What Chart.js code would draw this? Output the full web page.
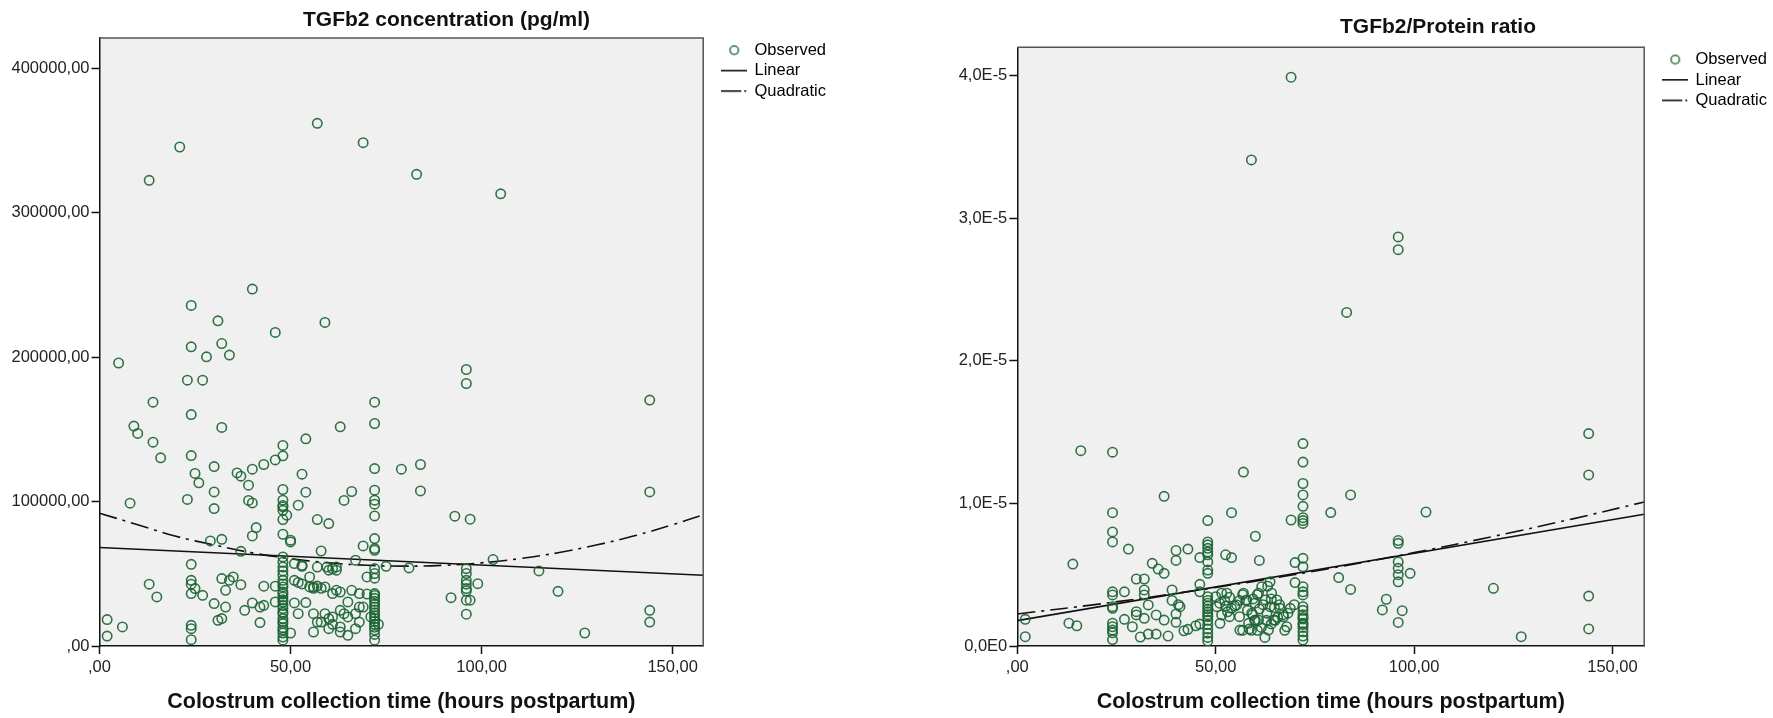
<!DOCTYPE html>
<html>
<head>
<meta charset="utf-8">
<script src="https://cdn.jsdelivr.net/npm/chart.js@4.4.1/dist/chart.umd.min.js"></script>
<style>
  body { margin: 0; background: #fff; }
  #wrap { position: relative; width: 1773px; height: 718px; }
  canvas { position: absolute; top: 0; }
  #c1 { left: 0; }
  #c2 { left: 886px; }
</style>
</head>
<body>
<div id="wrap">
  <canvas id="c1" width="886" height="718"></canvas>
  <canvas id="c2" width="887" height="718"></canvas>
</div>
<script>
// tick positions and labels (SPSS style, comma decimals)
const timeTickValues = [0, 50, 100, 150];
const timeTicks = [',00', '50,00', '100,00', '150,00'];
const concTickValues = [0, 100000, 200000, 300000, 400000];
const concTicks = [',00', '100000,00', '200000,00', '300000,00', '400000,00'];
const ratioTickValues = [0, 1e-5, 2e-5, 3e-5, 4e-5];
const ratioTicks = ['0,0E0', '1,0E-5', '2,0E-5', '3,0E-5', '4,0E-5'];
const legendNames = ['Observed', 'Linear', 'Quadratic'];

// TGFb2 concentration: [hours, pg/ml]
const concObserved = [
  [57,362000],[69,348600],[21,345600],[13,322500],[83,326700],[105,313200],
  [40,247200],[24,235900],[31,225200],[59,224100],[46,217200],[24,207200],[32,209500],[28,200300],[34,201500],[5,196000],
  [96,191500],[96,181800],[23,184100],[27,184100],[14,168900],[72,168900],[24,160300],[63,151800],[32,151400],[72,154100],
  [9,152300],[10,147200],[54,143500],[14,141200],[48,138900],[48,131700],[24,131900],[16,130300],[46,128900],[43,125700],
  [40,122500],[30,124300],[72,122900],[79,122500],[84,125700],[36,119900],[37,117600],[53,119000],[25,119500],[26,113000],
  [39,111400],[30,106700],[48,108400],[54,106500],[66,107000],[72,107900],[84,107400],
  [23,101500],[8,98900],[30,95200],[39,100800],[40,99100],[48,101000],[48,97300],[52,97500],[64,100800],[72,101000],
  [72,98200],[72,90100],[48,87600],[49,90600],[57,87600],[60,84800],[93,89900],[97,87800],[41,82000],[40,76200],[48,77400],
  [50,72100],[29,72800],[32,73900],[69,69300],[72,74400],[72,67500],[72,66300],[58,65800],[37,65600],[67,59400],[48,61700],
  [75,55200],[81,54100],[103,59900],[115,52000],[120,37900],[127,9000],
  [96,53600],[96,50200],[96,45500],[96,42800],[96,39800],[96,38100],[96,31700],[96,22000],[99,43200],[92,33500],[97,31700],
  [144,170300],[144,106700],[144,24700],[144,16600],
  [2,18300],[2,6900],[6,13200],[13,42800],[15,34000],[24,56600],[24,45500],[24,42800],[24,36300],[25,39800],[27,35100],
  [24,14300],[24,12000],[24,4400],
  [30,29400],[31,17800],[32,19000],[33,27000],[32,46700],[33,38600],[34,45500],[35,47800],[37,42500],[38,24700],[40,29800],
  [42,27000],[43,28200],[42,16200],[43,41400],[46,41400],[46,30500],
  [48,94000],[48,96300],[48,54700],[48,49000],[48,45500],[48,40900],[48,37400],[48,34000],[48,30500],[48,28000],[48,25900],
  [48,22400],[48,19000],[48,15500],[48,12700],[48,9000],[48,6200],[48,4000],[48,32000],[48,23500],[48,17000],[48,11000],
  [48,43000],[48,36000],[48,52000],[48,58000],
  [50,73300],[51,57100],[51,45500],[52,44000],[53,43000],[51,29800],[52,22400],[50,9000],[53,55900],[53,55200],
  [55,47800],[55,40900],[57,54700],[56,40900],[57,41500],[56,40000],[54,30100],[56,22400],[57,16600],[58,16600],[59.5,54700],
  [60,52500],[61,53500],[58,40000],[59,40900],[59,22400],[60,19000],[61,15000],[61,20100],[60,12000],[56,9700],[61,36300],
  [62,52500],[62,54800],[62,38600],[63,37400],[63,24700],[64,22400],[65,20100],[63,13200],[63,9700],[65,7400],[65,30500],
  [66,38600],[67,12000],[68,36300],[68,27000],[69,27000],[70,36000],[67,22400],[68,16600],[70,47800],[71,20100],[73,15000],
  [72,53600],[72,50200],[72,47000],[72,36300],[72,33000],[72,31000],[72,29000],[72,27000],[72,25000],[72,23000],[72,21000],
  [72,19000],[72,17000],[72,15000],[72,13000],[72,11000],[72,8000],[72,4000],[72,35000]
];

// fitted curves
const concFitX = [0, 10, 20, 30, 40, 50, 60, 70, 80, 90, 100, 110, 120, 130, 140, 150, 158];
const concQuadratic = [92000, 84000, 76000, 70000, 64500, 60500, 57600, 55900, 55300, 55900, 57600, 60500, 64600, 69900, 76300, 84000, 90900];
const concLinearX = [0, 158];
const concLinear = [68200, 49000];

// TGFb2/Protein ratio: [hours, ratio]
const ratioObserved = [
  [69,39.9e-6],[59,34.1e-6],[83,23.4e-6],[96,28.7e-6],[96,27.8e-6],
  [144,14.9e-6],[144,12.0e-6],[144,3.5e-6],[144,1.2e-6],[127,0.65e-6],[120,4.05e-6],[103,9.4e-6],
  [96,7.4e-6],[96,7.2e-6],[96,5.9e-6],[96,5.45e-6],[96,5.0e-6],[96,4.5e-6],[96,1.65e-6],[99,5.1e-6],[93,3.28e-6],[92,2.53e-6],[97,2.48e-6],
  [72,14.2e-6],[72,12.9e-6],[72,11.4e-6],[72,10.6e-6],[72,9.8e-6],[72,9.0e-6],[72,8.8e-6],[72,8.6e-6],[72,6.15e-6],[72,5.56e-6],
  [72,4.16e-6],[72,3.8e-6],[72,3.58e-6],[72,2.76e-6],[72,2.5e-6],[72,2.2e-6],[72,1.9e-6],[72,1.6e-6],[72,1.3e-6],[72,1.0e-6],
  [72,0.7e-6],[72,0.42e-6],[72,2.0e-6],[72,1.5e-6],
  [69,8.84e-6],[79,9.36e-6],[84,10.6e-6],[60,7.7e-6],[61,6.0e-6],[70,5.85e-6],[70,4.45e-6],[81,4.8e-6],[84,3.97e-6],
  [2,1.87e-6],[2,0.65e-6],[13,1.6e-6],[15,1.42e-6],[14,5.75e-6],[16,13.7e-6],[24,13.6e-6],[37,10.5e-6],[57,12.2e-6],[48,8.8e-6],
  [54,9.35e-6],[24,9.35e-6],[24,8.0e-6],[24,7.3e-6],[28,6.8e-6],
  [48,7.3e-6],[48,7.1e-6],[48,6.85e-6],[48,6.6e-6],[48,6.4e-6],[48,5.9e-6],[48,5.33e-6],[48,5.1e-6],[48,3.46e-6],[48,3.2e-6],
  [48,3.0e-6],[48,2.8e-6],[48,2.6e-6],[48,2.4e-6],[48,2.2e-6],[48,2.06e-6],[48,1.8e-6],[48,1.5e-6],[48,1.2e-6],[48,0.9e-6],
  [48,0.6e-6],[48,0.35e-6],
  [40,6.7e-6],[40,6.0e-6],[43,6.8e-6],[46,6.2e-6],[52.5,6.4e-6],[54,6.2e-6],[34,5.8e-6],[35.5,5.4e-6],[37,5.1e-6],[30,4.7e-6],
  [32,4.7e-6],[32,3.93e-6],[32,3.58e-6],[24,3.8e-6],[24,3.58e-6],[27,3.8e-6],[24,2.76e-6],[33,2.88e-6],[30,2.41e-6],[30,2.18e-6],
  [39,3.2e-6],[40.6,2.9e-6],[41,2.76e-6],[32,1.94e-6],[35,2.18e-6],[37,1.82e-6],[40,2.25e-6],[40,1.66e-6],[27,1.87e-6],[29,1.35e-6],
  [24,1.6e-6],[24,1.35e-6],[24,1.12e-6],[24,0.45e-6],[31,0.63e-6],[33,0.84e-6],[35,0.84e-6],[38,0.7e-6],[42,1.07e-6],[43,1.17e-6],
  [46,3.8e-6],[46,4.33e-6],[46,1.54e-6],[45,1.42e-6],[39,3.93e-6],[24,0.93e-6],[24,2.64e-6],
  [50,3.46e-6],[51,3.0e-6],[51.5,3.7e-6],[52.3,3.2e-6],[52.6,2.8e-6],[53,2.4e-6],[53.5,2.06e-6],[54.8,2.8e-6],[56,3.2e-6],
  [56.8,3.6e-6],[57.6,3.2e-6],[58,2.5e-6],[59.3,2.2e-6],[60,1.8e-6],[60.5,3.6e-6],[56.8,1.1e-6],[58.5,1.2e-6],[60.5,1.1e-6],
  [59.4,3.3e-6],[61.9,2.9e-6],[63.1,4.2e-6],[64,3.3e-6],[64.8,2.7e-6],[66.1,2.9e-6],[67,2.2e-6],[68.2,2.3e-6],[59.8,1.8e-6],
  [61.5,1.3e-6],[62.8,1.8e-6],[64,1.55e-6],[65.6,2.0e-6],[67.4,1.1e-6],[62.4,0.6e-6],[59,1.1e-6],[69.8,2.9e-6],[61,2.6e-6],[65,1.8e-6],
  [50.3,2.76e-6],[51.1,1.59e-6],[51.5,2.18e-6],[52.8,3.7e-6],[53.5,3.42e-6],[54,2.64e-6],[55.3,2.88e-6],[56,2.06e-6],[56.1,1.12e-6],
  [57,3.7e-6],[57.8,3.23e-6],[58.3,1.59e-6],[59.1,2.3e-6],[59.9,3.0e-6],[60.8,3.7e-6],[60.8,1.82e-6],[61.6,4.16e-6],[62.5,3.23e-6],
  [62.9,2.3e-6],[63.3,1.12e-6],[63.7,2.76e-6],[64.1,3.7e-6],[64.6,1.82e-6],[65.4,3.23e-6],[66.2,2.64e-6],[67.1,2.06e-6],
  [67.9,1.35e-6],[68.8,2.64e-6],[63.7,4.5e-6]
];

const ratioFitX = [0, 20, 40, 60, 80, 100, 120, 140, 158];
const ratioQuadratic = [2.25e-6, 2.92e-6, 3.69e-6, 4.55e-6, 5.5e-6, 6.55e-6, 7.69e-6, 8.92e-6, 10.1e-6];
const ratioLinearX = [0, 158];
const ratioLinear = [1.78e-6, 9.24e-6];

const FONT = "'Liberation Sans', Arial, sans-serif";
const GREEN = 'rgba(26, 100, 50, 0.9)';

// small legend glyphs
function glyph(w, h, draw) {
  const c = document.createElement('canvas');
  c.width = w; c.height = h;
  draw(c.getContext('2d'));
  return c;
}
const circleGlyph = glyph(12, 12, g => {
  g.strokeStyle = GREEN; g.lineWidth = 1.5;
  g.beginPath(); g.arc(6, 6, 4.2, 0, Math.PI * 2); g.stroke();
});
const lineGlyph = glyph(26, 4, g => { g.fillStyle = '#111'; g.fillRect(0, 1, 26, 1.6); });
const quadGlyph = glyph(26, 4, g => {
  g.fillStyle = '#111'; g.fillRect(0, 1, 20, 1.6); g.fillRect(23, 1, 2, 1.6);
});

const plotFrame = {
  id: 'plotFrame',
  beforeDraw(chart) {
    const { ctx, chartArea: a } = chart;
    ctx.save();
    ctx.fillStyle = '#f0f0f0';
    ctx.fillRect(a.left, a.top, a.right - a.left, a.bottom - a.top);
    ctx.restore();
  },
  afterDraw(chart) {
    const { ctx, chartArea: a } = chart;
    ctx.save();
    ctx.strokeStyle = '#555';
    ctx.lineWidth = 1.5;
    ctx.beginPath();
    ctx.moveTo(a.left, a.top);
    ctx.lineTo(a.right, a.top);
    ctx.lineTo(a.right, a.bottom);
    ctx.stroke();
    ctx.restore();
  }
};

// move title / legend after layout (legend starts at plot top)
const nudge = {
  id: 'nudge',
  afterLayout(chart, args, opts) {
    if (chart.titleBlock) { chart.titleBlock.left += opts.title; chart.titleBlock.right += opts.title; }
    if (chart.legend) {
      chart.legend.left += opts.legend;
      chart.legend.right += opts.legend;
      chart.legend.top = chart.chartArea.top;
    }
  }
};

function toPoints(xs, ys) {
  return xs.map((x, i) => ({ x: x, y: ys[i] }));
}

function fixedTicks(values) {
  return scale => { scale.ticks = values.map(v => ({ value: v })); };
}

function makeChart(id, cfg) {
  return new Chart(document.getElementById(id), {
    type: 'scatter',
    data: {
      datasets: [
        {
          label: legendNames[0],
          data: cfg.observed.map(p => ({ x: p[0], y: p[1] })),
          pointStyle: 'circle',
          pointRadius: 4.7,
          pointBorderWidth: 1.6,
          pointBorderColor: GREEN,
          pointBackgroundColor: 'rgba(0,0,0,0)',
          showLine: false
        },
        {
          label: legendNames[1],
          data: toPoints(cfg.linX, cfg.lin),
          showLine: true,
          borderColor: '#111',
          borderWidth: 1.6,
          pointRadius: 0
        },
        {
          label: legendNames[2],
          data: toPoints(cfg.quadX, cfg.quad),
          showLine: true,
          borderColor: '#111',
          borderWidth: 1.6,
          borderDash: [18, 6, 3, 6],
          tension: 0.4,
          pointRadius: 0
        }
      ]
    },
    options: {
      responsive: false,
      animation: false,
      layout: { padding: { left: 0, right: cfg.padRight, top: 0, bottom: 0 } },
      scales: {
        x: {
          type: 'linear',
          min: 0,
          max: 158,
          afterFit: s => { s.height = 718 - 646; },
          afterBuildTicks: fixedTicks(timeTickValues),
          border: { display: true, color: '#111', width: 1.5 },
          grid: { drawOnChartArea: false, drawTicks: true, tickLength: 8, tickWidth: 1.5, tickColor: '#111' },
          ticks: {
            padding: 4,
            color: '#222',
            font: { family: FONT, size: 16.5 },
            callback: (v, i) => timeTicks[i]
          },
          title: {
            display: true,
            text: 'Colostrum collection time (hours postpartum)',
            color: '#111',
            font: { family: FONT, size: 21.5, weight: 'bold' },
            padding: { top: 0, bottom: 3 }
          }
        },
        y: {
          type: 'linear',
          min: 0,
          max: cfg.yMax,
          afterFit: s => { s.width = cfg.yWidth; },
          afterBuildTicks: fixedTicks(cfg.yTickValues),
          border: { display: true, color: '#111', width: 1.5 },
          grid: { drawOnChartArea: false, drawTicks: true, tickLength: 8, tickWidth: 1.5, tickColor: '#111' },
          ticks: {
            padding: 2,
            color: '#222',
            font: { family: FONT, size: 16.5 },
            callback: (v, i) => cfg.yTicks[i]
          }
        }
      },
      plugins: {
        tooltip: { enabled: false },
        title: {
          display: true,
          text: cfg.title,
          color: '#111',
          font: { family: FONT, size: 21, weight: 'bold', lineHeight: 1.2 },
          padding: { top: cfg.titleTop, bottom: cfg.titleBottom }
        },
        legend: {
          position: 'right',
          align: 'start',
          labels: {
            usePointStyle: true,
            pointStyleWidth: 24,
            boxHeight: 12,
            padding: 4,
            color: '#222',
            font: { family: FONT, size: 16.5 },
            generateLabels: () => [
              { text: legendNames[0], pointStyle: circleGlyph, fillStyle: 'transparent', strokeStyle: 'transparent', lineWidth: 0, datasetIndex: 0 },
              { text: legendNames[1], pointStyle: lineGlyph, fillStyle: 'transparent', strokeStyle: 'transparent', lineWidth: 0, datasetIndex: 1 },
              { text: legendNames[2], pointStyle: quadGlyph, fillStyle: 'transparent', strokeStyle: 'transparent', lineWidth: 0, datasetIndex: 2 }
            ]
          }
        },
        nudge: { title: cfg.titleShift, legend: 15 }
      }
    },
    plugins: [plotFrame, nudge]
  });
}

makeChart('c1', {
  title: 'TGFb2 concentration (pg/ml)',
  observed: concObserved,
  linX: concLinearX, lin: concLinear,
  quadX: concFitX, quad: concQuadratic,
  yMax: 421100, yTickValues: concTickValues, yTicks: concTicks,
  yWidth: 99.5, padRight: 65,
  titleTop: 7.5, titleBottom: 5.3, titleShift: 36
});

makeChart('c2', {
  title: 'TGFb2/Protein ratio',
  observed: ratioObserved,
  linX: ratioLinearX, lin: ratioLinear,
  quadX: ratioFitX, quad: ratioQuadratic,
  yMax: 4.2e-5, yTickValues: ratioTickValues, yTicks: ratioTicks,
  yWidth: 131.3, padRight: 11,
  titleTop: 15, titleBottom: 7.1, titleShift: 114
});
</script>
</body>
</html>
